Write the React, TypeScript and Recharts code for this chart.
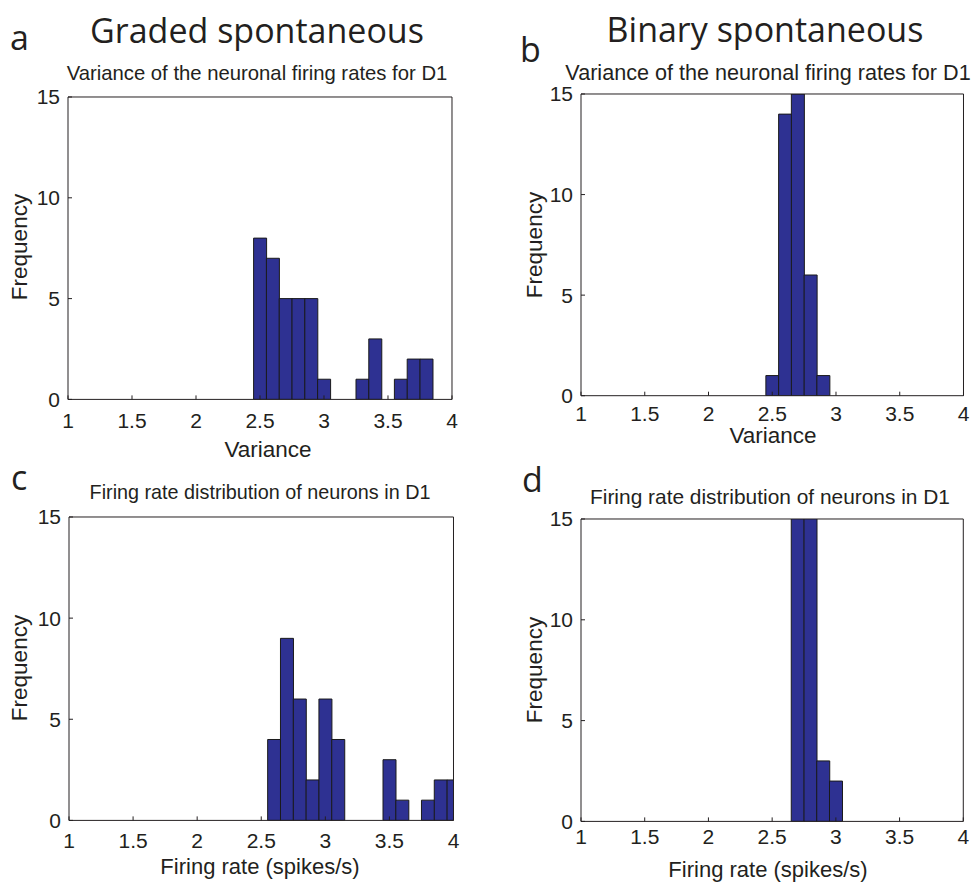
import React from "react";
import { BarChart, Bar, XAxis, YAxis } from "recharts";

// ---- data ----
const varGradedBins = [2.5, 2.6, 2.7, 2.8, 2.9, 3.0, 3.1, 3.2, 3.3, 3.4, 3.5, 3.6, 3.7, 3.8];
const varGradedCounts = [8, 7, 5, 5, 5, 1, 0, 0, 1, 3, 0, 1, 2, 2];

const varBinaryBins = [2.5, 2.6, 2.7, 2.8, 2.9];
const varBinaryCounts = [1, 14, 15, 6, 1];

const rateGradedBins = [2.6, 2.7, 2.8, 2.9, 3.0, 3.1, 3.2, 3.3, 3.4, 3.5, 3.6, 3.7, 3.8, 3.9, 4.0];
const rateGradedCounts = [4, 9, 6, 2, 6, 4, 0, 0, 0, 3, 1, 0, 1, 2, 2];

const rateBinaryBins = [2.7, 2.8, 2.9, 3.0];
const rateBinaryCounts = [17, 18, 3, 2];

const xTicks = [1, 1.5, 2, 2.5, 3, 3.5, 4];
const yTicks = [0, 5, 10, 15];

const toRows = (bins: number[], counts: number[]) =>
  bins.map((x, i) => ({ x, count: counts[i] }));

const AX_FONT = "'Liberation Sans', Arial, Helvetica, sans-serif";
const TITLE_FONT = "'Open Sans', 'Noto Sans', sans-serif";
const INK = "#231f20";
const BAR_FILL = "#2e3192";

type Plot = { x0: number; x1: number; y0: number; y1: number };

function Hist({
  rows,
  plot,
  xTickMargin,
  tickFont,
}: {
  rows: { x: number; count: number }[];
  plot: Plot;
  xTickMargin: number;
  tickFont: number;
}) {
  const mL = 60, mT = 10, mR = 6, mB = 40;
  const w = plot.x1 - plot.x0 + mL + mR + 2;
  const h = plot.y1 - plot.y0 + mT + mB + 2;
  const axisStyle = { stroke: INK, strokeWidth: 1 };
  const tickStyle = { fontSize: tickFont, fill: INK, fontFamily: AX_FONT };
  return (
    <div style={{ position: "absolute", left: plot.x0 - mL - 1, top: plot.y0 - mT - 1 }}>
      <BarChart
        width={w}
        height={h}
        data={rows}
        margin={{ left: mL, top: mT, right: mR, bottom: mB }}
        barCategoryGap={0}
        barGap={0}
      >
        <XAxis
          dataKey="x"
          type="number"
          domain={[1, 4]}
          ticks={xTicks}
          allowDataOverflow
          height={1}
          tickSize={-4}
          tickMargin={xTickMargin}
          axisLine={axisStyle}
          tickLine={axisStyle}
          tick={tickStyle}
          interval={0}
        />
        <XAxis
          xAxisId="top"
          orientation="top"
          type="number"
          domain={[1, 4]}
          ticks={xTicks}
          allowDataOverflow
          height={1}
          tickSize={-4}
          axisLine={axisStyle}
          tickLine={axisStyle}
          tick={false}
          interval={0}
        />
        <YAxis
          type="number"
          domain={[0, 15]}
          ticks={yTicks}
          allowDataOverflow
          width={1}
          tickSize={-4}
          tickMargin={12}
          axisLine={axisStyle}
          tickLine={axisStyle}
          tick={tickStyle}
          interval={0}
        />
        <YAxis
          yAxisId="right"
          orientation="right"
          type="number"
          domain={[0, 15]}
          ticks={yTicks}
          allowDataOverflow
          width={1}
          tickSize={-4}
          axisLine={axisStyle}
          tickLine={axisStyle}
          tick={false}
          interval={0}
        />
        <Bar
          dataKey="count"
          fill={BAR_FILL}
          stroke="#1a1a1a"
          strokeWidth={1}
          isAnimationActive={false}
        />
      </BarChart>
    </div>
  );
}

const plotA: Plot = { x0: 68, x1: 452, y0: 96.6, y1: 399 };
const plotB: Plot = { x0: 581, x1: 963.5, y0: 94, y1: 395.7 };
const plotC: Plot = { x0: 68.5, x1: 453, y0: 517.3, y1: 820.7 };
const plotD: Plot = { x0: 581, x1: 963.3, y0: 519.3, y1: 821.7 };

export default function App() {
  const t = (fs: number) => ({ fontFamily: AX_FONT, fontSize: fs, fill: INK } as const);
  const big = { fontFamily: TITLE_FONT, fontSize: 34, fill: INK } as const;
  const lab = t(22.5);
  const labS = t(22);
  return (
    <div
      style={{
        position: "absolute",
        left: 0,
        top: 0,
        width: 973,
        height: 883,
        overflow: "hidden",
        background: "#fff",
      }}
    >
      <Hist rows={toRows(varGradedBins, varGradedCounts)} plot={plotA} xTickMargin={18} tickFont={21} />
      <Hist rows={toRows(varBinaryBins, varBinaryCounts)} plot={plotB} xTickMargin={14} tickFont={21} />
      <Hist rows={toRows(rateGradedBins, rateGradedCounts)} plot={plotC} xTickMargin={17} tickFont={21} />
      <Hist rows={toRows(rateBinaryBins, rateBinaryCounts)} plot={plotD} xTickMargin={12} tickFont={21} />
      <svg
        width={973}
        height={883}
        style={{ position: "absolute", left: 0, top: 0, pointerEvents: "none" }}
      >
        <text x={10} y={50} {...big}>a</text>
        <text x={520} y={62} {...big}>b</text>
        <text x={11} y={490} {...big}>c</text>
        <text x={522} y={492} {...big}>d</text>

        <text x={257} y={43} textAnchor="middle" {...big}>Graded spontaneous</text>
        <text x={765} y={42} textAnchor="middle" {...big}>Binary spontaneous</text>

        <text x={257} y={80} textAnchor="middle" {...t(20.3)}>Variance of the neuronal firing rates for D1</text>
        <text x={768} y={80} textAnchor="middle" {...t(21.6)}>Variance of the neuronal firing rates for D1</text>
        <text x={260} y={499} textAnchor="middle" {...t(19.8)}>Firing rate distribution of neurons in D1</text>
        <text x={770} y={504} textAnchor="middle" {...t(20.9)}>Firing rate distribution of neurons in D1</text>

        <text x={27} y={247} textAnchor="middle" transform="rotate(-90 27 247)" {...lab}>Frequency</text>
        <text x={542} y={245} textAnchor="middle" transform="rotate(-90 542 245)" {...lab}>Frequency</text>
        <text x={27} y={668} textAnchor="middle" transform="rotate(-90 27 668)" {...lab}>Frequency</text>
        <text x={542} y={670} textAnchor="middle" transform="rotate(-90 542 670)" {...lab}>Frequency</text>

        <text x={268} y={457} textAnchor="middle" {...lab}>Variance</text>
        <text x={773} y={443} textAnchor="middle" {...lab}>Variance</text>
        <text x={260} y={874} textAnchor="middle" {...labS}>Firing rate (spikes/s)</text>
        <text x={768} y={877} textAnchor="middle" {...labS}>Firing rate (spikes/s)</text>
      </svg>
    </div>
  );
}
